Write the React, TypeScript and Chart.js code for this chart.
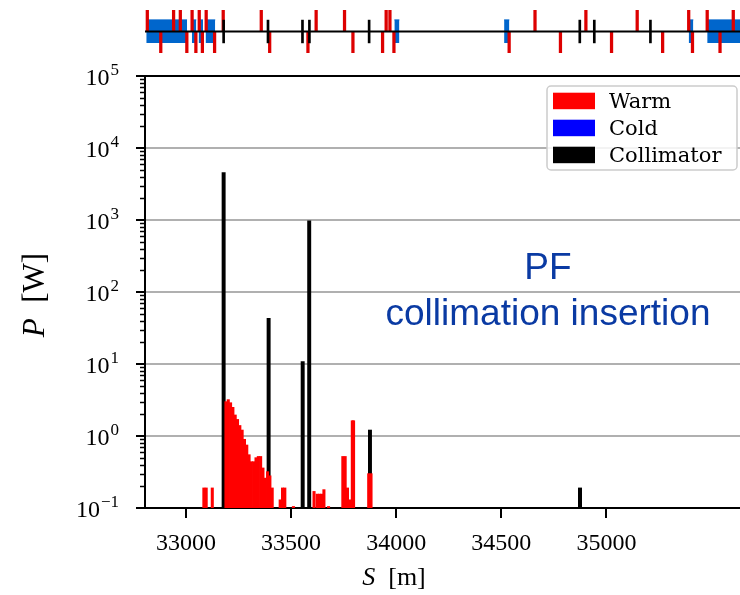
import React, { useEffect, useRef } from 'react';
import { Chart, registerables } from 'chart.js';

Chart.register(...registerables);

// ---------- axis ranges & tick labels ----------
const xMin = 32805;
const xMax = 35635;
const xTicks = [33000, 33500, 34000, 34500, 35000];
const yMajor = [0.1, 1, 10, 100, 1000, 10000, 100000];
const yExponents = ['\u22121', '0', '1', '2', '3', '4', '5'];
const yMinorMultipliers = [2, 3, 4, 5, 6, 7, 8, 9];

// ---------- main plot: warm (red) loss histogram ----------
const warmS = [
  33085, 33096, 33125,
  33190, 33201, 33212, 33223, 33234, 33245, 33256, 33267, 33278, 33289, 33300,
  33311, 33322, 33333, 33344, 33355, 33366, 33377, 33388, 33399, 33410,
  33448, 33459, 33470, 33511,
  33609, 33624, 33635, 33646, 33656, 33678,
  33746, 33757, 33768, 33780, 33791, 33797,
  33869, 33880,
];
const warmP = [
  0.19, 0.19, 0.19,
  3.0, 3.2, 2.9, 2.5, 1.96, 1.7, 1.4, 1.21, 0.9, 0.75, 0.55,
  0.44, 0.44, 0.5, 0.52, 0.52, 0.36, 0.26, 0.32, 0.28, 0.19,
  0.13, 0.19, 0.19, 0.105,
  0.17, 0.156, 0.156, 0.156, 0.18, 0.105,
  0.52, 0.52, 0.19, 0.13, 1.63, 1.63,
  0.3, 0.3,
];

// ---------- main plot: collimator (black) losses ----------
const collS = [33179, 33393, 33555, 33586, 33875, 34874];
const collP = [4540, 43.2, 10.8, 977, 1.21, 0.19];

// ---------- beam-line strip ----------
const stripWarmUpS = [32816, 32941, 32973, 33029, 33063, 33096, 33177, 33358, 33619, 33754, 33952, 33970, 34660, 34902, 35146, 35391, 35479, 35603];
const stripWarmDownS = [32880, 33004, 33047, 33078, 33136, 33398, 33580, 33794, 33935, 33989, 34537, 34781, 35024, 35267, 35409, 35540];
const stripCollS = [33179, 33390, 33554, 33587, 33871, 34873, 34942, 35209];
const stripColdStart = [32811, 33028, 33060, 33093, 33991, 34513, 35391, 35479];
const stripColdEnd = [33005, 33049, 33081, 33139, 34015, 34538, 35413, 35700];

// ---------- text ----------
const legendLabels = ['Warm', 'Cold', 'Collimator'];
const legendColors = ['#ff0000', '#0000ff', '#000000'];
const noteLines = ['PF', 'collimation insertion'];
const xTitleParts = ['S', '  [m]'];
const yTitleParts = ['P', '  [W]'];

const SERIF = '"Liberation Serif", "DejaVu Serif", serif';
const LEGEND_SERIF = '"DejaVu Serif", "Liberation Serif", serif';
const SANS = '"Liberation Sans", Arial, sans-serif';

const isMajor = (v: number) => {
  const l = Math.log10(v);
  return Math.abs(l - Math.round(l)) < 1e-9;
};

const decorPlugin = {
  id: 'decor',
  afterDraw(chart: any) {
    const { ctx, chartArea } = chart;
    const y = chart.scales.y;
    const x = chart.scales.x;
    const left = chartArea.left;
    const bottom = chartArea.bottom;
    ctx.save();
    ctx.strokeStyle = '#000000';
    ctx.setLineDash([]);

    // y ticks (major 9px, minor 5px, outward)
    y.ticks.forEach((t: any) => {
      const major = isMajor(t.value);
      const py = Math.round(y.getPixelForValue(t.value)) + (major ? 0 : 0.5);
      ctx.lineWidth = major ? 2 : 1.5;
      ctx.beginPath();
      ctx.moveTo(left, py);
      ctx.lineTo(left - (major ? 9 : 5), py);
      ctx.stroke();
    });
    // x ticks (outward)
    ctx.lineWidth = 2;
    xTicks.forEach((v) => {
      const px = Math.round(x.getPixelForValue(v));
      ctx.beginPath();
      ctx.moveTo(px, bottom);
      ctx.lineTo(px, bottom + 10);
      ctx.stroke();
    });

    // y tick labels: 10 with superscript exponent
    ctx.fillStyle = '#000';
    ctx.textAlign = 'left';
    ctx.textBaseline = 'alphabetic';
    const R = 119;
    yMajor.forEach((v, i) => {
      const py = y.getPixelForValue(v);
      ctx.font = `17px ${SERIF}`;
      const ew = ctx.measureText(yExponents[i]).width;
      ctx.font = `24px ${SERIF}`;
      const bw = ctx.measureText('10').width;
      const x0 = R - ew - bw - 1;
      ctx.fillText('10', x0, py + 9);
      ctx.font = `17px ${SERIF}`;
      ctx.fillText(yExponents[i], x0 + bw + 1, py - 1);
    });

    // legend box
    const bx = 547, by = 86, bw = 190, bh = 84;
    ctx.fillStyle = 'rgba(255,255,255,0.85)';
    ctx.strokeStyle = '#cccccc';
    ctx.lineWidth = 1.5;
    ctx.beginPath();
    (ctx as any).roundRect(bx, by, bw, bh, 4);
    ctx.fill();
    ctx.stroke();
    ctx.font = `21px ${LEGEND_SERIF}`;
    legendLabels.forEach((lab, i) => {
      const top = 92.7 + i * 27;
      ctx.fillStyle = legendColors[i];
      ctx.fillRect(553, top, 42, 16.5);
      ctx.fillStyle = '#000';
      ctx.fillText(lab, 609, top + 15.6);
    });

    // annotation
    ctx.fillStyle = '#0a3aa3';
    ctx.font = `37px ${SANS}`;
    ctx.textAlign = 'center';
    ctx.fillText(noteLines[0], 548, 279);
    ctx.fillText(noteLines[1], 548, 325);

    // x axis title
    ctx.fillStyle = '#000';
    ctx.textAlign = 'left';
    ctx.font = `italic 26px ${SERIF}`;
    const sW = ctx.measureText(xTitleParts[0]).width;
    ctx.font = `26px ${SERIF}`;
    const mW = ctx.measureText(xTitleParts[1]).width;
    let x0 = 394 - (sW + mW) / 2;
    ctx.font = `italic 26px ${SERIF}`;
    ctx.fillText(xTitleParts[0], x0, 585);
    ctx.font = `26px ${SERIF}`;
    ctx.fillText(xTitleParts[1], x0 + sW, 585);

    // y axis title
    ctx.translate(44, 295);
    ctx.rotate(-Math.PI / 2);
    ctx.font = `italic 31px ${SERIF}`;
    const pW = ctx.measureText(yTitleParts[0]).width;
    ctx.font = `31px ${SERIF}`;
    const wW = ctx.measureText(yTitleParts[1]).width;
    x0 = -(pW + wW) / 2;
    ctx.font = `italic 31px ${SERIF}`;
    ctx.fillText(yTitleParts[0], x0, 0);
    ctx.font = `31px ${SERIF}`;
    ctx.fillText(yTitleParts[1], x0 + pW, 0);
    ctx.restore();
  },
};

export default function App() {
  const mainRef = useRef<HTMLCanvasElement>(null);
  const stripRef = useRef<HTMLCanvasElement>(null);

  useEffect(() => {
    const mainChart = new Chart(mainRef.current as HTMLCanvasElement, {
      type: 'bar',
      data: {
        datasets: [
          {
            label: 'Warm',
            data: warmS.map((s, i) => ({ x: s, y: warmP[i] })),
            backgroundColor: '#ff0000',
            borderWidth: 0,
            barThickness: 2.4,
            grouped: false,
            order: 0,
          } as any,
          {
            label: 'Collimator',
            data: collS.map((s, i) => ({ x: s, y: collP[i] })),
            backgroundColor: '#000000',
            borderWidth: 0,
            barThickness: 3.3,
            grouped: false,
            order: 1,
          } as any,
        ],
      },
      options: {
        animation: false,
        responsive: false,
        devicePixelRatio: 1,
        layout: { padding: { top: 76, right: 0, left: 0, bottom: 0 } },
        plugins: { legend: { display: false }, tooltip: { enabled: false } },
        scales: {
          x: {
            type: 'linear',
            min: xMin,
            max: xMax,
            offset: false,
            afterBuildTicks: (s: any) => {
              s.ticks = xTicks.map((v) => ({ value: v }));
            },
            afterFit: (s: any) => {
              s.height = 87;
            },
            grid: { drawOnChartArea: false, drawTicks: true, tickLength: 9, tickColor: 'rgba(0,0,0,0)', offset: false },
            border: { display: true, color: '#000', width: 2 },
            ticks: {
              font: { family: SERIF, size: 24 },
              color: '#000',
              padding: 12,
              maxRotation: 0,
              autoSkip: false,
              callback: (v: any) => String(v),
            },
          },
          y: {
            type: 'logarithmic',
            min: yMajor[0],
            max: yMajor[yMajor.length - 1],
            afterBuildTicks: (s: any) => {
              const t: any[] = [];
              yMajor.forEach((m, i) => {
                t.push({ value: m, major: true });
                if (i < yMajor.length - 1) yMinorMultipliers.forEach((k) => t.push({ value: k * m }));
              });
              s.ticks = t;
            },
            afterFit: (s: any) => {
              s.width = 145;
            },
            grid: {
              color: (c: any) => {
                const v = c.tick ? c.tick.value : 0;
                if (!isMajor(v)) return 'rgba(0,0,0,0)';
                if (Math.abs(v - yMajor[yMajor.length - 1]) < 1) return '#000';
                return '#b0b0b0';
              },
              lineWidth: 2,
              tickLength: 9,
              tickColor: 'rgba(0,0,0,0)',
            },
            border: { display: true, color: '#000', width: 2 },
            ticks: {
              display: true,
              autoSkip: false,
              callback: () => '',
            },
          },
        },
      },
      plugins: [decorPlugin],
    });

    const boxDatasets = stripColdStart.map((s, i) => ({
      type: 'line',
      data: [
        { x: s, y: 0.54 },
        { x: stripColdEnd[i], y: 0.54 },
      ],
      fill: { value: -0.54 },
      backgroundColor: '#0066cc',
      borderColor: '#0066cc',
      borderWidth: 1,
      pointRadius: 0,
      order: 5,
    }));

    const stripChart = new Chart(stripRef.current as HTMLCanvasElement, {
      type: 'bar',
      data: {
        datasets: [
          {
            type: 'line',
            data: [
              { x: xMin, y: 0 },
              { x: xMax, y: 0 },
            ],
            borderColor: '#000',
            borderWidth: 2,
            pointRadius: 0,
            fill: false,
            order: 0,
          } as any,
          {
            data: stripCollS.map((s) => ({ x: s, y: [-0.53, 0.53] })),
            backgroundColor: '#000',
            borderWidth: 0,
            barThickness: 2,
            grouped: false,
            order: 1,
          } as any,
          {
            data: stripWarmUpS.map((s) => ({ x: s, y: [0, 1] })),
            backgroundColor: '#dd0000',
            borderWidth: 0,
            barThickness: 2.6,
            grouped: false,
            order: 2,
          } as any,
          {
            data: stripWarmDownS.map((s) => ({ x: s, y: [-1, 0] })),
            backgroundColor: '#dd0000',
            borderWidth: 0,
            barThickness: 2.6,
            grouped: false,
            order: 3,
          } as any,
          ...(boxDatasets as any[]),
        ],
      },
      options: {
        animation: false,
        responsive: false,
        devicePixelRatio: 1,
        layout: { padding: { left: 145, top: 10, bottom: 7, right: 0 } },
        plugins: { legend: { display: false }, tooltip: { enabled: false } },
        scales: {
          x: { type: 'linear', min: xMin, max: xMax, display: false, offset: false, grid: { offset: false } },
          y: { type: 'linear', min: -1, max: 1, display: false },
        },
      },
    });

    return () => {
      mainChart.destroy();
      stripChart.destroy();
    };
  }, []);

  return (
    <div style={{ position: 'fixed', left: 0, top: 0, width: 740, height: 595, background: '#fff' }}>
      <canvas ref={mainRef} width={740} height={595} style={{ position: 'absolute', left: 0, top: 0, width: 740, height: 595 }} />
      <canvas ref={stripRef} width={740} height={60} style={{ position: 'absolute', left: 0, top: 0, width: 740, height: 60 }} />
    </div>
  );
}
